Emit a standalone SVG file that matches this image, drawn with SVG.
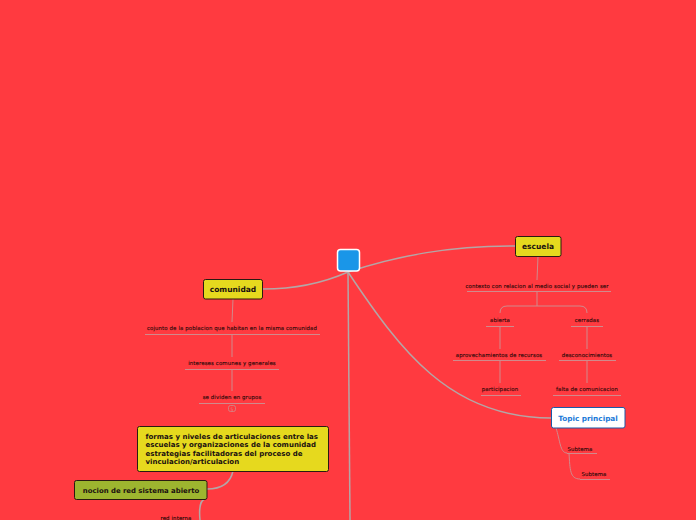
<svg xmlns="http://www.w3.org/2000/svg" width="696" height="520" viewBox="0 0 696 520">
<style>
.bg{fill:#ff3a40}
.conn{fill:none;stroke:#b4a6a6;stroke-width:1.5}
.thin{fill:none;stroke:#d08a8c;stroke-width:1}
.ul{stroke:#d08a8c;stroke-width:1}
.main{fill:#e6d91e;stroke:#2a1a10;stroke-width:1}
.t{font-family:"DejaVu Sans",Verdana,sans-serif;font-weight:bold;fill:#1a1010}
.main-t{font-size:7.5px}
.sub{font-family:"DejaVu Sans",Verdana,sans-serif;font-size:5.4px;letter-spacing:0.12px;fill:#2a0808;stroke:#2a0808;stroke-width:0.12;text-anchor:middle}
</style>
<rect class="bg" width="696" height="520"/>
<g id="connectors">
<path class="conn" d="M348,272 C330,280 300,289 263,289"/>
<path class="conn" d="M348,272 C400,255 450,246 515,246"/>
<path class="conn" d="M348,272 C400,350 450,418 551,418"/>
<path class="conn" d="M348,272 L350,520"/>
<path class="conn" d="M233,471 C230,485 220,489 207,489"/>
<path class="conn" d="M205,499 C200,500 199,510 200,520"/>
<path class="thin" d="M233,299 L232,322 M232,334 L232,357 M232,369 L232,391"/>
<path class="thin" d="M538,256 L537,280 M537,291 L537,306 M537,306 L507,306 Q500,306 500,313 M537,306 L580,306 Q587,306 587,313 M500,326 L500,349 M500,360 L500,383 M587,326 L587,349 M587,360 L587,383"/>
<path class="thin" d="M556,428 C560,440 560,453 567,453 M569,453 C570,470 570,479 580,479"/>
</g>
<g id="center">
<rect x="337.5" y="249.5" width="22" height="21.5" rx="3" fill="#1a96e8" stroke="#ffffff" stroke-width="1.5"/>
</g>
<g id="comunidad">
<rect class="main" x="203.5" y="279.5" width="59" height="19.5" rx="2"/>
<text class="t main-t" x="233" y="292" text-anchor="middle">comunidad</text>
</g>
<g id="cojunto">
<text class="sub" x="232" y="330">cojunto de la poblacion que habitan en la misma comunidad</text>
<line class="ul" x1="145" y1="334.5" x2="320" y2="334.5"/>
</g>
<g id="intereses">
<text class="sub" x="232" y="365">intereses comunes y generales</text>
<line class="ul" x1="185" y1="369.5" x2="279" y2="369.5"/>
</g>
<g id="dividen">
<text class="sub" x="232" y="399">se dividen en grupos</text>
<line class="ul" x1="199" y1="403.5" x2="265" y2="403.5"/>
<rect x="228.5" y="405.5" width="7" height="6" rx="2" fill="none" stroke="#d08a8c" stroke-width="0.8"/>
<text x="232" y="410.5" font-family="DejaVu Sans,sans-serif" font-size="4.5" fill="#e09090" text-anchor="middle">5</text>
</g>
<g id="escuela">
<rect class="main" x="515.5" y="236.5" width="45.5" height="20" rx="2"/>
<text class="t main-t" x="538" y="249" text-anchor="middle">escuela</text>
</g>
<g id="contexto">
<text class="sub" x="537" y="288">contexto con relacion al medio social y pueden ser</text>
<line class="ul" x1="467" y1="291.5" x2="611" y2="291.5"/>
</g>
<g id="abierta">
<text class="sub" x="500" y="322">abierta</text>
<line class="ul" x1="486" y1="326.5" x2="514" y2="326.5"/>
</g>
<g id="cerradas">
<text class="sub" x="587" y="322">cerradas</text>
<line class="ul" x1="571" y1="326.5" x2="603" y2="326.5"/>
</g>
<g id="aprovechamientos">
<text class="sub" x="499" y="357">aprovechamientos de recursos</text>
<line class="ul" x1="453" y1="360.5" x2="546" y2="360.5"/>
</g>
<g id="desconocimientos">
<text class="sub" x="587" y="357">desconocimientos</text>
<line class="ul" x1="559" y1="360.5" x2="616" y2="360.5"/>
</g>
<g id="participacion">
<text class="sub" x="500" y="391">participacion</text>
<line class="ul" x1="481" y1="395.5" x2="521" y2="395.5"/>
</g>
<g id="falta">
<text class="sub" x="587" y="391">falta de comunicacion</text>
<line class="ul" x1="553" y1="395.5" x2="621" y2="395.5"/>
</g>
<g id="topic">
<rect x="551.5" y="407.5" width="73.5" height="20.5" rx="2" fill="#ffffff" stroke="#1a5aa8" stroke-width="1"/>
<text class="t" x="588" y="421" font-size="7.3" text-anchor="middle" style="fill:#1a7ad8">Topic principal</text>
</g>
<g id="subtema1">
<text class="sub" x="580" y="451">Subtema</text>
<line class="ul" x1="567" y1="453.5" x2="597" y2="453.5"/>
</g>
<g id="subtema2">
<text class="sub" x="594" y="476">Subtema</text>
<line class="ul" x1="580" y1="479.5" x2="610" y2="479.5"/>
</g>
<g id="formas">
<rect class="main" x="137.5" y="426.5" width="191" height="45" rx="2"/>
<text class="t" font-size="7" x="145.5" y="438.5">formas y niveles de articulaciones entre las</text>
<text class="t" font-size="7" x="145.5" y="447">escuelas y organizaciones de la comunidad</text>
<text class="t" font-size="7" x="145.5" y="455.5">estrategias facilitadoras del proceso de</text>
<text class="t" font-size="7" x="145.5" y="464">vinculacion/articulacion</text>
</g>
<g id="nocion">
<rect x="74.5" y="480.5" width="132.5" height="19" rx="2" fill="#9db52f" stroke="#2a1a10" stroke-width="1"/>
<text class="t" font-size="6.9" x="141" y="492.5" text-anchor="middle">nocion de red sistema abierto</text>
</g>
<g id="red-interna">
<text class="sub" x="176" y="520">red interna</text>
</g>
</svg>
